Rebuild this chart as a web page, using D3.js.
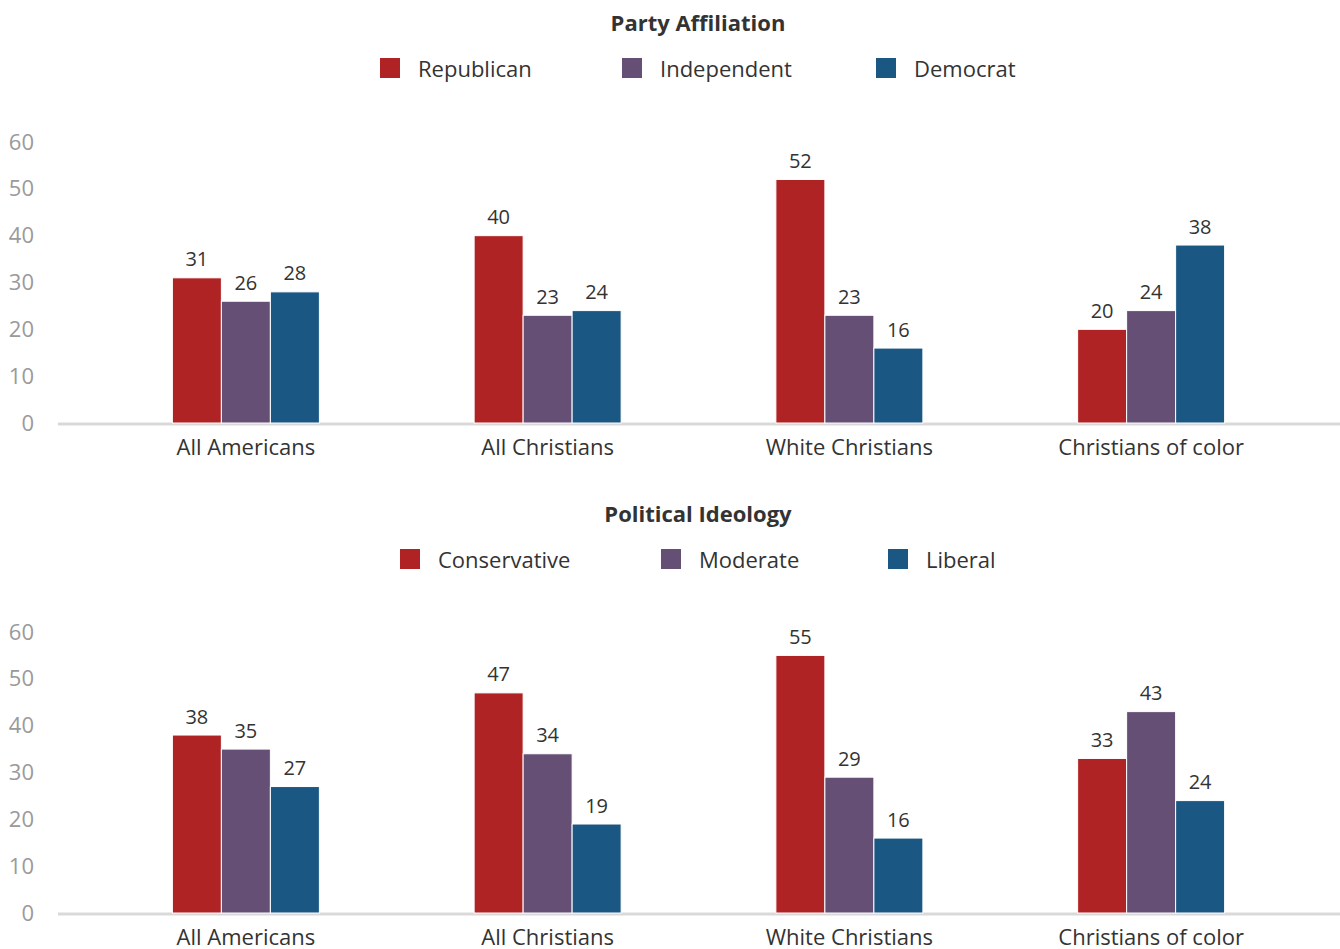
<!DOCTYPE html>
<html>
<head>
<meta charset="utf-8">
<script src="https://cdn.jsdelivr.net/npm/d3@7"></script>
<style>
  html, body { margin: 0; padding: 0; background: #fff; }
  svg { display: block; font-family: "Open Sans", "Noto Sans", sans-serif; }
</style>
</head>
<body>
<svg id="chart" width="1340" height="949"></svg>
<script>
// Groups shown on the x axis of both panels
const categories = ["All Americans", "All Christians", "White Christians", "Christians of color"];

// Party affiliation (%)
const partySeries = ["Republican", "Independent", "Democrat"];
const republican  = [31, 40, 52, 20];
const independent = [26, 23, 23, 24];
const democrat    = [28, 24, 16, 38];

// Political ideology (%)
const ideologySeries = ["Conservative", "Moderate", "Liberal"];
const conservative = [38, 47, 55, 33];
const moderate     = [35, 34, 29, 43];
const liberal      = [27, 19, 16, 24];

const yTicks = [0, 10, 20, 30, 40, 50, 60];
const seriesColors = ["#b02324", "#654f74", "#1a5783"];

const svg = d3.select("#chart");

function drawPanel(cfg) {
  const g = svg.append("g");
  const y = d3.scaleLinear().domain([0, 60]).range([cfg.base, cfg.base - 281]);
  const x0 = d3.scaleBand().domain(categories).range([95, 1302]);
  const x1 = d3.scaleBand().domain(cfg.series).range([0, 147]);
  const color = d3.scaleOrdinal().domain(cfg.series).range(seriesColors);

  // Title
  g.append("text")
    .attr("x", 698).attr("y", cfg.titleY)
    .attr("text-anchor", "middle")
    .attr("dominant-baseline", "central")
    .attr("font-size", 22).attr("font-weight", 700)
    .attr("fill", "#333")
    .text(cfg.title);

  // Legend
  const leg = g.selectAll("g.legend").data(cfg.series).enter().append("g")
    .attr("transform", (d, i) => `translate(${cfg.legendX[i]},${cfg.legendY})`);
  leg.append("rect")
    .attr("x", 0).attr("y", -10).attr("width", 20).attr("height", 20)
    .attr("fill", d => color(d));
  leg.append("text")
    .attr("x", 38).attr("y", 0)
    .attr("dominant-baseline", "central")
    .attr("font-size", 22).attr("fill", "#333")
    .text(d => d);

  // Y axis labels
  const yAxis = d3.axisLeft(y).tickValues(yTicks).tickSize(0).tickPadding(0);
  const ya = g.append("g").attr("transform", "translate(34,0)").call(yAxis);
  ya.select(".domain").remove();
  ya.selectAll("text")
    .attr("font-size", 22).attr("fill", "#9a9a9a")
    .attr("font-family", "\"Open Sans\", sans-serif");

  // Baseline
  g.append("line")
    .attr("x1", 58).attr("x2", 1340)
    .attr("y1", y(0) + 1).attr("y2", y(0) + 1)
    .attr("stroke", "#d9d9d9").attr("stroke-width", 3);

  // Bars
  const rows = categories.map((c, i) => ({
    cat: c,
    vals: cfg.series.map((s, k) => ({ s, v: cfg.values[k][i] }))
  }));
  const groups = g.selectAll("g.grp").data(rows).enter().append("g")
    .attr("transform", d => `translate(${x0(d.cat) + x0.bandwidth() / 2 - 73.5},0)`);
  groups.selectAll("rect").data(d => d.vals).enter().append("rect")
    .attr("x", d => x1(d.s))
    .attr("width", x1.bandwidth())
    .attr("y", d => y(d.v))
    .attr("height", d => y(0) - y(d.v))
    .attr("fill", d => color(d.s))
    .attr("stroke", "#fff").attr("stroke-width", 1);
  groups.selectAll("text.val").data(d => d.vals).enter().append("text")
    .attr("class", "val")
    .attr("x", d => x1(d.s) + x1.bandwidth() / 2)
    .attr("y", d => y(d.v) - 19)
    .attr("text-anchor", "middle")
    .attr("dominant-baseline", "central")
    .attr("font-size", 20).attr("fill", "#333")
    .text(d => d.v);

  // Category labels
  g.selectAll("text.cat").data(categories).enter().append("text")
    .attr("class", "cat")
    .attr("x", d => x0(d) + x0.bandwidth() / 2)
    .attr("y", y(0) + 23)
    .attr("text-anchor", "middle")
    .attr("dominant-baseline", "central")
    .attr("font-size", 22).attr("fill", "#333")
    .text(d => d);
}

drawPanel({
  title: "Party Affiliation", titleY: 22,
  series: partySeries, values: [republican, independent, democrat],
  legendX: [380, 622, 876], legendY: 68,
  base: 423
});

drawPanel({
  title: "Political Ideology", titleY: 513,
  series: ideologySeries, values: [conservative, moderate, liberal],
  legendX: [400, 661, 888], legendY: 559,
  base: 913
});
</script>
</body>
</html>
